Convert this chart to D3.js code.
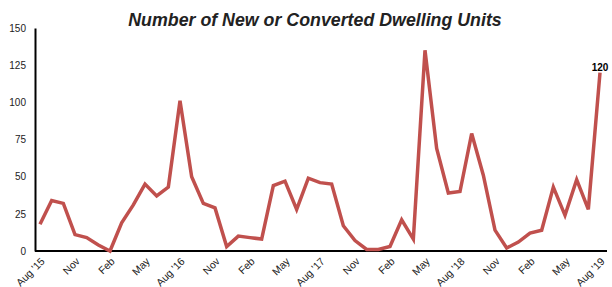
<!DOCTYPE html>
<html>
<head>
<meta charset="utf-8">
<script src="https://cdn.jsdelivr.net/npm/d3@7"></script>
<style>
  body { margin: 0; background: #fff; }
  text { font-family: "Liberation Sans", Arial, sans-serif; }
</style>
</head>
<body>
<div id="chart"></div>
<script>
// Monthly values, Aug 2015 through Aug 2019
var units = [18, 34, 32, 11, 9, 4, 0, 19, 31, 45, 37, 43,
  101, 50, 32, 29, 3, 10, 9, 8, 44, 47, 28, 49,
  46, 45, 17, 7, 1, 1, 3, 21, 8, 135, 69, 39,
  40, 79, 51, 14, 2, 6, 12, 14, 43, 24, 48, 28, 120];

// Labels every third month
var tickLabels = ["Aug '15", "Nov", "Feb", "May", "Aug '16", "Nov", "Feb", "May",
  "Aug '17", "Nov", "Feb", "May", "Aug '18", "Nov", "Feb", "May", "Aug '19"];
var yTicks = [0, 25, 50, 75, 100, 125, 150];

var svgWidth = 612;
var svgHeight = 287;

var svg = d3.select("#chart")
  .append("svg")
  .attr("width", svgWidth)
  .attr("height", svgHeight);

// Plot box
var plot = { left: 35, right: 607, top: 28, bottom: 251 };

var xScale = d3.scaleLinear()
  .domain([0, units.length - 1])
  .range([40, 600]);

var yScale = d3.scaleLinear()
  .domain([0, 150])
  .range([plot.bottom, plot.top]);

// Title
svg.append("text")
  .attr("x", 315)
  .attr("y", 26)
  .attr("text-anchor", "middle")
  .attr("font-size", "17.8px")
  .attr("font-weight", "bold")
  .attr("font-style", "italic")
  .attr("fill", "#222")
  .text("Number of New or Converted Dwelling Units");

// Y axis
var yAxis = svg.append("g")
  .attr("transform", `translate(${plot.left},0)`)
  .call(d3.axisLeft(yScale).tickValues(yTicks).tickSize(0).tickPadding(9));
yAxis.select(".domain").attr("stroke", "#000").attr("stroke-width", 2);
yAxis.selectAll("text").attr("font-size", "10px").attr("fill", "#222")
  .style("font-family", "'Liberation Sans', Arial, sans-serif");

// X axis
var tickIdx = tickLabels.map((d, i) => i * 3);
var xAxis = svg.append("g")
  .attr("transform", `translate(0,${plot.bottom})`)
  .call(d3.axisBottom(xScale).tickValues(tickIdx).tickSize(0)
    .tickFormat((d, i) => tickLabels[i]));
xAxis.select(".domain").attr("d", `M${plot.left},0H${plot.right}`)
  .attr("stroke", "#000").attr("stroke-width", 2);
xAxis.selectAll("text")
  .attr("font-size", "10.5px")
  .attr("fill", "#222")
  .style("font-family", "'Liberation Sans', Arial, sans-serif")
  .attr("text-anchor", "end")
  .attr("dy", null)
  .attr("y", 0)
  .attr("transform", "translate(5,11) rotate(-45)");

// Line
var line = d3.line()
  .x((d, i) => xScale(i))
  .y(d => yScale(d));

svg.append("path")
  .datum(units)
  .attr("fill", "none")
  .attr("stroke", "#c0504d")
  .attr("stroke-width", 3.5)
  .attr("stroke-linejoin", "miter")
  .attr("d", line);

// Last value label
var last = units.length - 1;
svg.append("text")
  .attr("x", xScale(last))
  .attr("y", yScale(units[last]) - 2)
  .attr("text-anchor", "middle")
  .attr("font-size", "10px")
  .attr("font-weight", "bold")
  .attr("fill", "#000")
  .text(units[last]);
</script>
</body>
</html>
